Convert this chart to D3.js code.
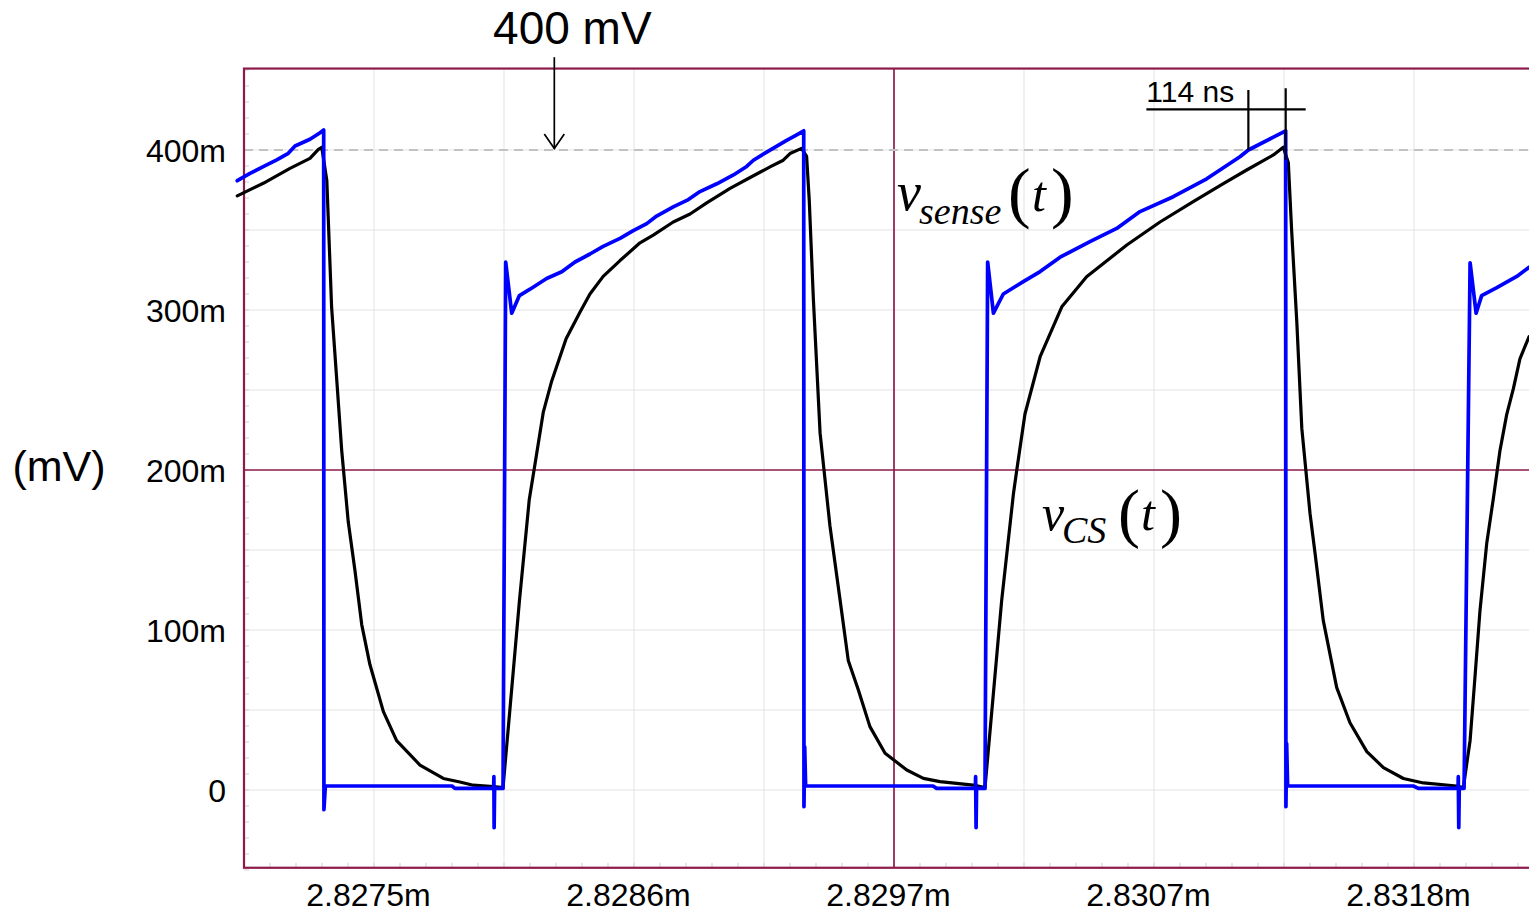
<!DOCTYPE html>
<html>
<head>
<meta charset="utf-8">
<script src="https://cdn.jsdelivr.net/npm/d3@7"></script>
<style>
  body { margin: 0; background: #fff; }
  svg { display: block; font-family: "Liberation Sans", Arial, sans-serif; }
</style>
</head>
<body>
<svg id="chart" width="1529" height="913"></svg>
<script>
// ---- Waveform data: time in microseconds, voltage in mV ----
const senseTime = [
  2826.932, 2826.985, 2827.040, 2827.096, 2827.144, 2827.172, 2827.234, 2827.276, 2827.291,
  2827.292, 2827.298,
  2827.824, 2827.836, 2827.997, 2827.998, 2827.999, 2828.001,
  2828.036, 2828.047, 2828.072, 2828.104, 2828.148, 2828.217, 2828.280, 2828.335, 2828.397, 2828.452,
  2828.522, 2828.577, 2828.633, 2828.674, 2828.743, 2828.806, 2828.854, 2828.924, 2828.993, 2829.048,
  2829.076, 2829.131, 2829.214, 2829.256, 2829.285,
  2829.286, 2829.289, 2829.293,
  2829.822, 2829.837, 2829.998, 2829.999, 2830.001, 2830.003,
  2830.038, 2830.049, 2830.073, 2830.114, 2830.197, 2830.267, 2830.350, 2830.474, 2830.585, 2830.682,
  2830.820, 2830.959, 2831.097, 2831.132, 2831.236, 2831.287,
  2831.288, 2831.291, 2831.295,
  2831.817, 2831.838, 2832.003, 2832.004, 2832.006, 2832.008,
  2832.028, 2832.053, 2832.078, 2832.101, 2832.164, 2832.247, 2832.298
];
const senseMv = [
  380.8, 385.4, 389.6, 393.8, 397.9, 402.5, 406.7, 410.8, 412.5,
  -12.3, 2.5,
  2.5, 1.0, 1.0, 8.3, -23.6, 1.0,
  1.0, 330, 298, 309, 313, 319.7, 323.9, 330, 335, 339.8,
  344.8, 349.6, 354, 358.7, 364.4, 369, 374, 378.9, 384.4, 389.7,
  393.6, 398.7, 406, 409.5, 412,
  -10.4, 27, 2.5,
  2.5, 1.0, 1.0, 8.3, -23.6, 1.0,
  1.0, 330, 298, 310, 317.7, 324, 333, 342.7, 351, 361.5,
  370.8, 382, 395.8, 400, 408, 412,
  -10.4, 29, 2.5,
  2.5, 1.0, 1.0, 8.3, -23.6, 1.0,
  1.0, 329.5, 298, 309, 314, 321, 326.7
];

const csTime = [
  2826.932, 2827.040, 2827.151, 2827.234, 2827.269, 2827.283,
  2827.304, 2827.324, 2827.345, 2827.366, 2827.393, 2827.421, 2827.449, 2827.483, 2827.539, 2827.594,
  2827.691, 2827.788, 2827.857, 2827.912, 2827.996, 2828.036,
  2828.104, 2828.145, 2828.169, 2828.203, 2828.238, 2828.298, 2828.356, 2828.397, 2828.452, 2828.522,
  2828.605, 2828.660, 2828.743, 2828.813, 2828.882, 2828.979, 2829.076, 2829.145, 2829.200, 2829.228, 2829.276,
  2829.297, 2829.308, 2829.325, 2829.353, 2829.394, 2829.436, 2829.470, 2829.512, 2829.560, 2829.623,
  2829.713, 2829.782, 2829.851, 2829.989, 2830.038,
  2830.107, 2830.156, 2830.170, 2830.204, 2830.267, 2830.357, 2830.460, 2830.627, 2830.765, 2830.903,
  2831.028, 2831.125, 2831.236, 2831.277,
  2831.298, 2831.312, 2831.333, 2831.354, 2831.388, 2831.409, 2831.443, 2831.499, 2831.554, 2831.624,
  2831.693, 2831.776, 2831.859, 2831.997, 2832.025,
  2832.053, 2832.073, 2832.094, 2832.122, 2832.149, 2832.177, 2832.205, 2832.233, 2832.260, 2832.298
];
const csMv = [
  371.3, 379.2, 388.5, 394.8, 400.4, 401.7,
  381, 301.6, 257, 212, 167.6, 137, 103.4, 78.4, 49, 30.9,
  15.6, 7.2, 5, 3, 2.2, 1.5,
  118, 181.6, 203.9, 236, 255.5, 282, 298.8, 310, 321, 330.9,
  342, 346.8, 355, 360, 367, 376, 383.9, 389.4, 393.6, 397.8, 401,
  396, 368.5, 307, 223, 165, 118.8, 81, 62.5, 39.6, 23,
  12.5, 7.3, 5.2, 3.1, 1.5,
  118, 185, 200, 235, 270.8, 302, 320.8, 340.6, 355, 367.7,
  379, 387.5, 396.9, 401.7,
  392, 349, 293, 226, 173, 148, 106, 64, 42, 24,
  14, 7.2, 4.4, 2.5, 1.5,
  31, 70, 112, 154, 181.6, 212, 234.6, 251, 269.5, 283.4
];

// ---- Axis ticks ----
const xTickValues = [2827.50, 2828.58, 2829.66, 2830.74, 2831.82];
const xTickLabels = ["2.8275m", "2.8286m", "2.8297m", "2.8307m", "2.8318m"];
const yTickValues = [0, 100, 200, 300, 400];
const yTickLabels = ["0", "100m", "200m", "300m", "400m"];

// ---- Annotations ----
const thresholdMv = 400;          // dashed reference level
const arrowTime = 2828.249;       // "400 mV" pointer
const arrowTopMv = 458;
const delayStart = 2831.132;      // v_sense reaches 400 mV
const delayEnd = 2831.287;        // switch turns off
const delayLabel = "114 ns";

// ---- Layout ----
const svg = d3.select("#chart");
const x = d3.scaleLinear().domain([2826.96, 2832.36]).range([244, 1544]);
const y = d3.scaleLinear().domain([-50, 450]).range([870, 70]);
const frameRed = "#8c1a4b";
const gridGray = "#e3e3e3";

const xDiv = 0.54, yDiv = 50;
const xStart = x.domain()[0];
const xGrid = d3.range(0, 11).map(i => xStart + i * xDiv);
const yGrid = d3.range(-50, 451, yDiv);

const frameTop = y(450.9), frameBottom = y(-48.6);
const frameLeft = x(xStart), frameRight = x.range()[1];

// light grid
svg.append("g").selectAll("line").data(xGrid.filter((d, i) => i > 0 && i !== 5)).join("line")
  .attr("x1", d => x(d)).attr("x2", d => x(d))
  .attr("y1", frameTop).attr("y2", frameBottom)
  .attr("stroke", gridGray).attr("stroke-width", 1);
svg.append("g").selectAll("line").data(yGrid.filter(d => d !== 200 && d > -50 && d < 450)).join("line")
  .attr("x1", frameLeft).attr("x2", frameRight)
  .attr("y1", d => y(d)).attr("y2", d => y(d))
  .attr("stroke", gridGray).attr("stroke-width", 1);

// minor ticks along bottom and left edges
const xMinor = d3.range(0, 51).map(i => xStart + i * xDiv / 5);
svg.append("g").selectAll("line").data(xMinor).join("line")
  .attr("x1", d => x(d)).attr("x2", d => x(d))
  .attr("y1", frameBottom).attr("y2", frameBottom - 5)
  .attr("stroke", "#cfcfcf").attr("stroke-width", 1);
const yMinor = d3.range(-50, 451, 10);
svg.append("g").selectAll("line").data(yMinor).join("line")
  .attr("x1", frameLeft).attr("x2", frameLeft + 5)
  .attr("y1", d => y(d)).attr("y2", d => y(d))
  .attr("stroke", "#cfcfcf").attr("stroke-width", 1);

// center cross-hair lines
svg.append("line")
  .attr("x1", x(xGrid[5])).attr("x2", x(xGrid[5]))
  .attr("y1", frameTop).attr("y2", frameBottom)
  .attr("stroke", frameRed).attr("stroke-width", 1.7);
svg.append("line")
  .attr("x1", frameLeft).attr("x2", frameRight)
  .attr("y1", y(200)).attr("y2", y(200))
  .attr("stroke", frameRed).attr("stroke-width", 1.7);

// threshold dashed line
svg.append("line")
  .attr("x1", frameLeft).attr("x2", frameRight)
  .attr("y1", y(thresholdMv)).attr("y2", y(thresholdMv))
  .attr("stroke", "#c2c2c2").attr("stroke-width", 2)
  .attr("stroke-dasharray", "9,6");

// frame
svg.append("rect")
  .attr("x", frameLeft).attr("y", frameTop)
  .attr("width", frameRight - frameLeft).attr("height", frameBottom - frameTop)
  .attr("fill", "none").attr("stroke", frameRed).attr("stroke-width", 2.2);

// axes
const xAxis = svg.append("g").attr("transform", `translate(0,${y(-50)})`)
  .call(d3.axisBottom(x).tickValues(xTickValues)
    .tickFormat((d, i) => xTickLabels[i]).tickSize(0));
xAxis.select(".domain").remove();
xAxis.selectAll("text")
  .attr("y", 36).attr("dy", null).attr("dx", -6)
  .attr("fill", "#000").style("font-size", "32px")
  .style("font-family", '"Liberation Sans", Arial, sans-serif');

const yAxis = svg.append("g").attr("transform", `translate(${frameLeft},0)`)
  .call(d3.axisLeft(y).tickValues(yTickValues)
    .tickFormat((d, i) => yTickLabels[i]).tickSize(0).tickPadding(18));
yAxis.select(".domain").remove();
yAxis.selectAll("text")
  .attr("dy", "0.36em")
  .attr("fill", "#000").style("font-size", "32px")
  .style("font-family", '"Liberation Sans", Arial, sans-serif');

svg.append("text")
  .attr("x", 59).attr("y", 481)
  .attr("text-anchor", "middle")
  .style("font-size", "43px")
  .text("(mV)");

// waveforms
const line = d3.line().x(d => x(d.t)).y(d => y(d.v));
const csData = csTime.map((t, i) => ({ t, v: csMv[i] }));
const senseData = senseTime.map((t, i) => ({ t, v: senseMv[i] }));

svg.append("path").datum(csData)
  .attr("d", line).attr("fill", "none")
  .attr("stroke", "#000").attr("stroke-width", 3.2)
  .attr("stroke-linejoin", "round").attr("stroke-linecap", "round");
svg.append("path").datum(senseData)
  .attr("d", line).attr("fill", "none")
  .attr("stroke", "#0000ff").attr("stroke-width", 3.7)
  .attr("stroke-linejoin", "round").attr("stroke-linecap", "round");

// "400 mV" pointer
const ax = x(arrowTime), ay = y(thresholdMv);
svg.append("line")
  .attr("x1", ax).attr("x2", ax).attr("y1", y(arrowTopMv)).attr("y2", ay - 1)
  .attr("stroke", "#000").attr("stroke-width", 1.7);
svg.append("polyline")
  .attr("points", `${ax - 10},${ay - 16} ${ax},${ay - 1.5} ${ax + 10},${ay - 16}`)
  .attr("fill", "none").attr("stroke", "#000").attr("stroke-width", 1.7);
svg.append("text")
  .attr("x", ax + 18).attr("y", 44)
  .attr("text-anchor", "middle")
  .style("font-size", "46px")
  .text("400 mV");

// delay marker
const d1 = x(delayStart), d2 = x(delayEnd);
const markY = y(425.4);
svg.append("line")
  .attr("x1", d1 - 102).attr("x2", d2 + 20).attr("y1", markY).attr("y2", markY)
  .attr("stroke", "#000").attr("stroke-width", 2.2);
svg.append("line")
  .attr("x1", d1).attr("x2", d1).attr("y1", y(437.5)).attr("y2", y(thresholdMv))
  .attr("stroke", "#000").attr("stroke-width", 2.2);
svg.append("line")
  .attr("x1", d2).attr("x2", d2).attr("y1", y(438.6)).attr("y2", y(394))
  .attr("stroke", "#000").attr("stroke-width", 2.2);
svg.append("text")
  .attr("x", d1 - 102).attr("y", markY - 7)
  .style("font-size", "30px")
  .text(delayLabel);

// trace names
const serif = '"Liberation Serif", "Times New Roman", serif';
function traceName(g, parts) {
  parts.forEach(p => {
    g.append("text")
      .attr("x", p.x).attr("y", p.y)
      .style("font-family", serif)
      .style("font-style", p.italic ? "italic" : "normal")
      .style("font-size", p.size + "px")
      .text(p.s);
  });
}
traceName(svg.append("g"), [
  { s: "v", x: 897, y: 210, size: 54, italic: true },
  { s: "sense", x: 919, y: 224, size: 38, italic: true },
  { s: "(", x: 1008, y: 215, size: 68 },
  { s: "t", x: 1032, y: 211, size: 50, italic: true },
  { s: ")", x: 1051, y: 215, size: 68 }
]);
traceName(svg.append("g"), [
  { s: "v", x: 1042, y: 530, size: 50, italic: true },
  { s: "CS", x: 1062, y: 543, size: 38, italic: true },
  { s: "(", x: 1118, y: 535, size: 66 },
  { s: "t", x: 1141, y: 530, size: 50, italic: true },
  { s: ")", x: 1160, y: 535, size: 66 }
]);
</script>
</body>
</html>
